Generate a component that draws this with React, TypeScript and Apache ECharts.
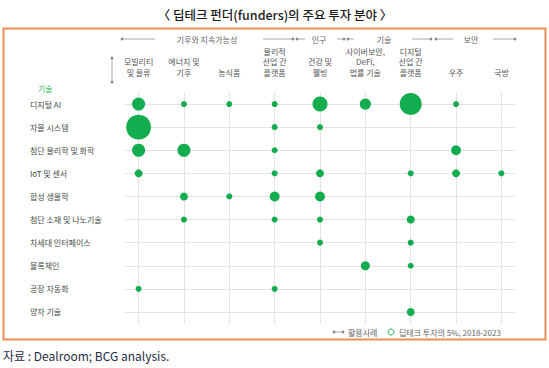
import React, { useEffect, useRef } from "react";
import * as echarts from "echarts";

const FONT = "'Noto Sans CJK KR', 'Noto Sans', sans-serif";

const columns = [
  "모빌리티\n및 물류",
  "에너지 및\n기후",
  "농식품",
  "물리적\n산업 간\n플랫폼",
  "건강 및\n웰빙",
  "사이버보안,\nDeFi,\n법률 기술",
  "디지털\n산업 간\n플랫폼",
  "우주",
  "국방",
];

const rows = [
  "디지털 AI",
  "자율 시스템",
  "첨단 물리학 및 화학",
  "IoT 및 센서",
  "합성 생물학",
  "첨단 소재 및 나노기술",
  "차세대 인터페이스",
  "블록체인",
  "공장 자동화",
  "양자 기술",
];

// relative share of deep-tech investment per (technology, use case); 0 = none
const digitalAI = [19, 4, 4, 4, 25, 14, 54, 4, 0];
const autonomous = [69, 0, 0, 4, 4, 0, 0, 0, 0];
const physicsChem = [19, 19, 0, 4, 0, 0, 0, 11, 0];
const iotSensors = [7, 0, 0, 4, 7, 0, 4, 7, 4];
const synBio = [0, 7, 4, 11, 11, 0, 0, 0, 0];
const materials = [0, 4, 0, 4, 4, 0, 7, 0, 0];
const nextInterface = [0, 0, 0, 0, 4, 0, 4, 0, 0];
const blockchain = [0, 0, 0, 0, 0, 9, 4, 0, 0];
const factoryAuto = [4, 0, 0, 4, 0, 0, 0, 0, 0];
const quantum = [0, 0, 0, 0, 0, 0, 7, 0, 0];

const matrix = [
  digitalAI,
  autonomous,
  physicsChem,
  iotSensors,
  synBio,
  materials,
  nextInterface,
  blockchain,
  factoryAuto,
  quantum,
];

const groupLabels = ["기후와 지속가능성", "인구", "기술", "보안"];

const GREEN = "#13ad4f";
const GRAY_LINE = "#a8a8a8";

export default function App() {
  const ref = useRef<HTMLDivElement>(null);

  useEffect(() => {
    if (!ref.current) return;
    const chart = echarts.init(ref.current, undefined, { renderer: "svg" });

    const points: number[][] = [];
    matrix.forEach((row, r) => {
      row.forEach((v, c) => {
        if (v > 0) points.push([c, r, v]);
      });
    });

    const hLine = (x1: number, x2: number, y: number) => ({
      type: "line",
      shape: { x1, y1: y, x2, y2: y },
      style: { stroke: GRAY_LINE, lineWidth: 1 },
    });
    const dot = (cx: number, cy: number) => ({
      type: "circle",
      shape: { cx, cy, r: 1.4 },
      style: { fill: "#8a8a8a" },
    });
    const txt = (x: number, y: number, text: string, opts: any = {}) => ({
      type: "text",
      x,
      y,
      style: {
        text,
        font: `${opts.weight || "normal"} ${opts.size || 8}px ${FONT}`,
        fill: opts.color || "#555",
        textAlign: opts.align || "center",
        textVerticalAlign: "middle",
      },
    });

    const GY = 39;

    chart.setOption({
      animation: false,
      textStyle: { fontFamily: FONT },
      grid: { left: 125, right: 34, top: 92.5, height: 231 },
      xAxis: {
        type: "value",
        position: "top",
        min: -0.3,
        max: 8.3,
        axisLine: { show: false },
        axisTick: { show: false },
        splitLine: { show: false },
        axisLabel: {
          customValues: columns.map((_, i) => i),
          formatter: (v: number) => columns[Math.round(v)],
          fontSize: 8,
          lineHeight: 10.5,
          color: "#555",
          margin: 15,
          verticalAlign: "bottom",
          fontFamily: FONT,
        },
      },
      yAxis: {
        type: "category",
        data: rows,
        inverse: true,
        axisLine: { show: false },
        axisTick: { show: false },
        splitLine: { show: false },
        axisLabel: {
          interval: 0,
          align: "left",
          margin: 95,
          fontSize: 8,
          color: "#3f4a42",
          fontFamily: FONT,
        },
      },
      series: [
        {
          type: "scatter",
          data: [],
          z: 0,
          silent: true,
          markLine: {
            z: 0,
            silent: true,
            symbol: ["none", "none"],
            label: { show: false },
            lineStyle: { color: "#e3e3e3", width: 1, type: "solid" },
            emphasis: { disabled: true },
            data: [
              ...rows.map((r) => ({ yAxis: r })),
              ...columns.map((_, i) => ({ xAxis: i })),
            ],
          },
        },
        {
          type: "scatter",
          z: 10,
          data: points,
          symbolSize: (v: number[]) => 3 * Math.sqrt(v[2]),
          itemStyle: { color: GREEN, opacity: 1 },
          emphasis: { disabled: true },
        },
      ],
      graphic: [
        {
          type: "rect",
          shape: { x: 3.5, y: 28.5, width: 542, height: 311 },
          style: { fill: "none", stroke: "#f08c55", lineWidth: 2 },
        },
        txt(275, 14, "〈 딥테크 펀더(funders)의 주요 투자 분야 〉", {
          size: 12.5,
          color: "#1a1a1a",
          weight: 500,
        }),
        hLine(122, 155, GY),
        dot(122, GY),
        txt(207, GY, groupLabels[0], { size: 8, color: "#666" }),
        hLine(263, 293, GY),
        dot(293, GY),
        hLine(297, 305, GY),
        dot(297, GY),
        txt(319, GY, groupLabels[1], { size: 8, color: "#666" }),
        hLine(337, 344, GY),
        dot(344, GY),
        hLine(348, 354, GY),
        dot(348, GY),
        txt(384, GY, groupLabels[2], { size: 8, color: "#666" }),
        hLine(412, 431, GY),
        dot(431, GY),
        hLine(436, 453, GY),
        dot(436, GY),
        txt(471, GY, groupLabels[3], { size: 8, color: "#666" }),
        hLine(493, 515, GY),
        dot(515, GY),
        {
          type: "line",
          shape: { x1: 112, y1: 58, x2: 112, y2: 82 },
          style: { stroke: GRAY_LINE, lineWidth: 1 },
        },
        dot(112, 58),
        dot(112, 82),
        txt(38, 88, "기술", { size: 8, color: "#2fb55e", align: "left" }),
        hLine(334, 343, 332),
        dot(334, 332),
        dot(343, 332),
        txt(348, 332, "활용사례", { size: 8, color: "#666", align: "left" }),
        {
          type: "circle",
          shape: { cx: 391, cy: 332, r: 3 },
          style: { fill: "#fff", stroke: GREEN, lineWidth: 1 },
        },
        txt(399, 332, "딥테크 투자의 5%, 2018-2023", {
          size: 8,
          color: "#666",
          align: "left",
        }),
        txt(3, 355, "자료 : Dealroom; BCG analysis.", {
          size: 12,
          color: "#1f2b45",
          align: "left",
        }),
      ],
    });

    return () => chart.dispose();
  }, []);

  return (
    <div
      ref={ref}
      style={{ position: "fixed", left: 0, top: 0, width: 549, height: 368, background: "#fff" }}
    />
  );
}
